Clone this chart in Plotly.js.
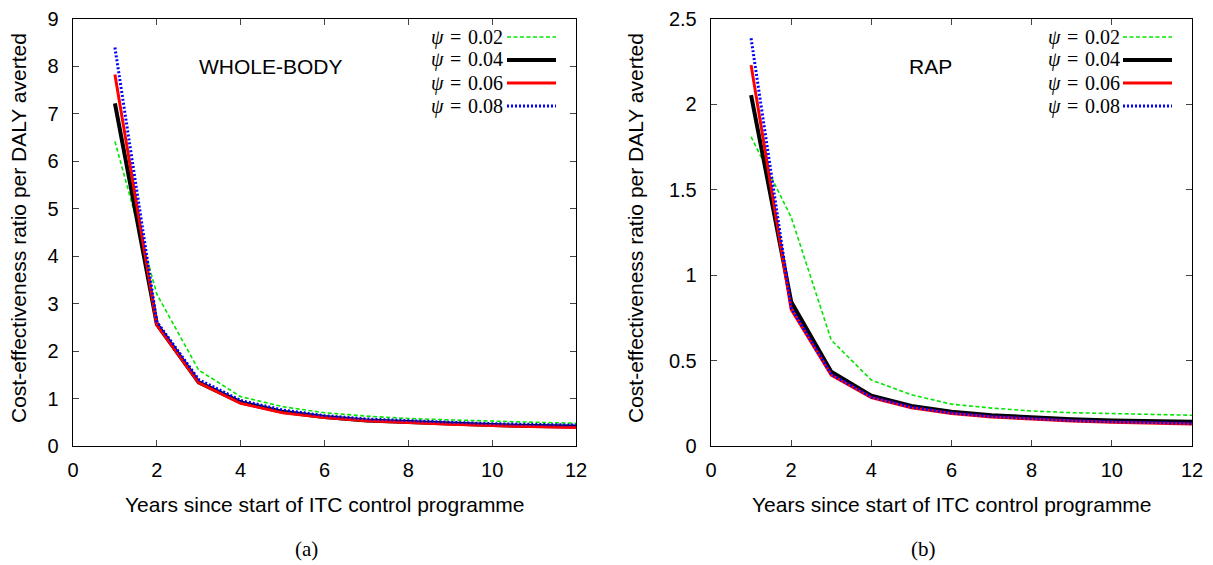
<!DOCTYPE html>
<html>
<head>
<meta charset="utf-8">
<script src="https://cdn.plot.ly/plotly-3.0.1.min.js"></script>
<style>html,body{margin:0;padding:0;background:#fff;}#chart{width:1213px;height:565px;}</style>
</head>
<body>
<div id="chart"></div>
<script>
// ---------- data ----------
var years = [1, 2, 3, 4, 5, 6, 7, 8, 9, 10, 11, 12];
var seriesNames = ["\u03C8 = 0.02", "\u03C8 = 0.04", "\u03C8 = 0.06", "\u03C8 = 0.08"];
var psiValues = ["0.02", "0.04", "0.06", "0.08"];

// (a) WHOLE-BODY
var wholeBody_psi002 = [6.42, 3.20, 1.60, 1.04, 0.83, 0.70, 0.63, 0.58, 0.55, 0.52, 0.50, 0.48];
var wholeBody_psi004 = [7.22, 2.57, 1.34, 0.92, 0.72, 0.61, 0.54, 0.50, 0.47, 0.44, 0.42, 0.41];
var wholeBody_psi006 = [7.83, 2.55, 1.33, 0.90, 0.70, 0.60, 0.53, 0.49, 0.46, 0.43, 0.41, 0.39];
var wholeBody_psi008 = [8.40, 2.62, 1.40, 0.96, 0.76, 0.64, 0.57, 0.53, 0.50, 0.47, 0.45, 0.44];

// (b) RAP
var rap_psi002 = [1.81, 1.34, 0.62, 0.386, 0.300, 0.245, 0.222, 0.205, 0.195, 0.190, 0.185, 0.180];
var rap_psi004 = [2.055, 0.845, 0.435, 0.295, 0.234, 0.200, 0.180, 0.168, 0.157, 0.150, 0.145, 0.142];
var rap_psi006 = [2.23, 0.800, 0.415, 0.283, 0.224, 0.190, 0.170, 0.156, 0.146, 0.139, 0.134, 0.129];
var rap_psi008 = [2.387, 0.810, 0.420, 0.287, 0.228, 0.193, 0.173, 0.159, 0.149, 0.142, 0.137, 0.133];

var xTicks = [0, 2, 4, 6, 8, 10, 12];
var yTicksA = [0, 1, 2, 3, 4, 5, 6, 7, 8, 9];
var yTicksB = [0, 0.5, 1, 1.5, 2, 2.5];

// ---------- styles ----------
var styles = [
  {color: "#00e600", width: 1.6, dash: "4px,2.5px"},
  {color: "#000000", width: 4, dash: "solid"},
  {color: "#ff0000", width: 3, dash: "solid"},
  {color: "#0000ff", width: 3, dash: "2px,2px"}
];

var panelA = [wholeBody_psi002, wholeBody_psi004, wholeBody_psi006, wholeBody_psi008];
var panelB = [rap_psi002, rap_psi004, rap_psi006, rap_psi008];

var traces = [];
panelA.forEach(function (ys, i) {
  traces.push({x: years, y: ys, xaxis: "x", yaxis: "y", type: "scatter", mode: "lines",
    name: seriesNames[i], showlegend: false, line: styles[i], hoverinfo: "x+y"});
});
panelB.forEach(function (ys, i) {
  traces.push({x: years, y: ys, xaxis: "x2", yaxis: "y2", type: "scatter", mode: "lines",
    name: seriesNames[i], showlegend: false, line: styles[i], hoverinfo: "x+y"});
});

var sans = "Liberation Sans, Arial, sans-serif";
var tickFont = {family: sans, size: 20, color: "#000"};
var titleFont = {family: sans, size: 21, color: "#000"};

function xAxis(domain, anchor) {
  return {domain: domain, anchor: anchor, range: [0, 12], tickvals: xTicks,
    ticks: "inside", ticklen: 6, tickwidth: 1, tickcolor: "#444", mirror: "ticks",
    showline: true, linecolor: "#000", linewidth: 1.3, showgrid: false, zeroline: false,
    tickfont: tickFont, ticklabelstandoff: 6, fixedrange: true};
}
function yAxis(domain, anchor, rng, ticks) {
  return {domain: domain, anchor: anchor, range: rng, tickvals: ticks,
    ticks: "inside", ticklen: 6, tickwidth: 1, tickcolor: "#444", mirror: "ticks",
    showline: true, linecolor: "#000", linewidth: 1.3, showgrid: false, zeroline: false,
    tickfont: tickFont, ticklabelstandoff: 9, fixedrange: true};
}

var W = 1213, H = 565;
var yDom = [(H - 446) / H, (H - 19) / H];
var xDomA = [73 / W, 576 / W];
var xDomB = [711 / W, 1192 / W];

var annotations = [];
var shapes = [];

// axis titles and panel labels
function addPanelTexts(xDom, label, innerText, innerX, yTitleX) {
  var cx = (xDom[0] + xDom[1]) / 2;
  annotations.push({xref: "paper", yref: "paper", x: cx, y: (H - 504) / H, xanchor: "center", yanchor: "middle",
    text: "Years since start of ITC control programme", showarrow: false, font: titleFont});
  annotations.push({xref: "paper", yref: "paper", x: yTitleX / W, y: (H - 228) / H, xanchor: "center", yanchor: "middle",
    textangle: -90, text: "Cost-effectiveness ratio per DALY averted", showarrow: false,
    font: {family: sans, size: 21, color: "#000"}});
  annotations.push({xref: "paper", yref: "paper", x: label.x / W, y: (H - 549) / H, xanchor: "center", yanchor: "middle",
    text: label.text, showarrow: false, font: {family: "Liberation Serif, DejaVu Serif, serif", size: 21, color: "#000"}});
  annotations.push({xref: "paper", yref: "paper", x: innerX / W, y: (H - 67) / H, xanchor: "center", yanchor: "middle",
    text: innerText, showarrow: false, font: {family: sans, size: 21, color: "#000"}});
}
addPanelTexts(xDomA, {x: 306, text: "(a)"}, "WHOLE-BODY", 271, 18);
addPanelTexts(xDomB, {x: 924, text: "(b)"}, "RAP", 930, 635);

// hand-made legends (text left of sample line, as in the original)
var legendRows = [37, 60, 83, 106];
function addLegend(xref, yref, textRight, lineStart, lineEnd) {
  psiValues.forEach(function (v, i) {
    var yf = (446 - legendRows[i]) / 427;
    annotations.push({xref: xref + " domain", yref: yref + " domain",
      x: textRight, y: yf, xanchor: "right", yanchor: "middle", showarrow: false,
      text: "<i>\u03C8</i> \u200A=\u200A " + v,
      font: {family: "Liberation Serif, DejaVu Serif, serif", size: 20, color: "#000"}});
    shapes.push({type: "line", xref: xref + " domain", yref: yref + " domain",
      x0: lineStart, x1: lineEnd, y0: yf, y1: yf,
      line: {color: styles[i].color, width: styles[i].width, dash: styles[i].dash}});
  });
}
addLegend("x", "y", (505 - 73) / 503, (507 - 73) / 503, (556 - 73) / 503);
addLegend("x2", "y2", (1122 - 711) / 481, (1123 - 711) / 481, (1172 - 711) / 481);

var layout = {
  width: W, height: H,
  margin: {l: 0, r: 0, t: 0, b: 0},
  paper_bgcolor: "#fff", plot_bgcolor: "#fff",
  showlegend: false,
  xaxis: xAxis(xDomA, "y"),
  yaxis: yAxis(yDom, "x", [0, 9], yTicksA),
  xaxis2: xAxis(xDomB, "y2"),
  yaxis2: yAxis(yDom, "x2", [0, 2.5], yTicksB),
  annotations: annotations,
  shapes: shapes
};

Plotly.newPlot("chart", traces, layout, {displayModeBar: false, staticPlot: true});
</script>
</body>
</html>
